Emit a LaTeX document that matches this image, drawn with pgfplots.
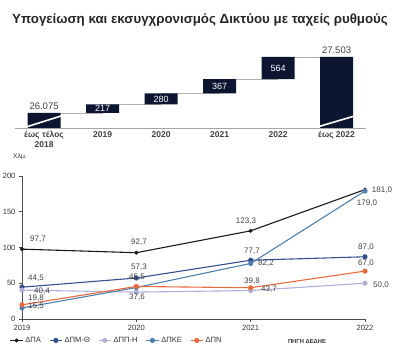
\documentclass[border=0pt]{standalone}
\usepackage{pgfplots}
\pgfplotsset{compat=1.18}
\usepackage{fontspec}
\setmainfont{Liberation Sans}
\definecolor{navy}{HTML}{0C1630}
\definecolor{cPA}{HTML}{1A1A1A}
\definecolor{cPMT}{HTML}{34508C}
\definecolor{cPPH}{HTML}{AFAFD8}
\definecolor{cPKE}{HTML}{4F7FAE}
\definecolor{cPN}{HTML}{E86A3E}
\definecolor{lbl}{HTML}{404040}
\begin{document}
\begin{tikzpicture}
\path[use as bounding box] (0pt,0pt) rectangle (400pt,363pt);
\node[font=\bfseries\fontsize{13.3}{16}\selectfont, text=black!85] at (200pt,343pt) {Υπογείωση και εκσυγχρονισμός Δικτύου με ταχείς ρυθμούς};

% connectors (behind bars)
\begin{axis}[at={(14.8pt,235pt)}, anchor=south west, scale only axis,
  width=351pt, height=83pt, xmin=-0.5, xmax=5.5, ymin=25690, ymax=27810,
  hide axis]
\addplot[gray!60, line width=0.5pt] coordinates {(0,26075) (1,26075)};
\addplot[gray!60, line width=0.5pt] coordinates {(1,26292) (2,26292)};
\addplot[gray!60, line width=0.5pt] coordinates {(2,26572) (3,26572)};
\addplot[gray!60, line width=0.5pt] coordinates {(3,26939) (4,26939)};
\addplot[gray!60, line width=0.5pt] coordinates {(4,27503) (5,27503)};
\end{axis}

% waterfall bars
\begin{axis}[at={(14.8pt,235pt)}, anchor=south west, scale only axis,
  width=351pt, height=83pt, xmin=-0.5, xmax=5.5, ymin=25690, ymax=27810,
  ybar stacked, bar width=33pt,
  axis y line=none, axis x line*=bottom,
  x axis line style={gray!70, line width=0.6pt},
  xtick={0,1,2,3,4,5},
  xticklabels={{έως τέλος\\2018},2019,2020,2021,2022,έως 2022},
  x tick label style={font=\bfseries\fontsize{8.5}{10}\selectfont, text=black!75, align=center},
  major tick length=0pt]
\addplot[draw=none, fill=none] coordinates {(0,0) (1,26075) (2,26292) (3,26572) (4,26939) (5,0)};
\addplot[draw=none, fill=navy] coordinates {(0,26075) (1,217) (2,280) (3,367) (4,564) (5,27503)};
\end{axis}

% labels on the waterfall
\begin{axis}[at={(14.8pt,235pt)}, anchor=south west, scale only axis,
  width=351pt, height=83pt, xmin=-0.5, xmax=5.5, ymin=25690, ymax=27810,
  hide axis, clip=false]
\addplot[draw=none] coordinates {(0,26075) (5,27503)};
\draw[white, line width=1.6pt] (axis cs:-0.32,25710) -- (axis cs:0.32,26010);
\draw[white, line width=1.6pt] (axis cs:4.66,25710) -- (axis cs:5.36,26020);
\node[font=\fontsize{9.5}{10}\selectfont, text=black!75, above] at (axis cs:0,26075) {26.075};
\node[font=\fontsize{9.5}{10}\selectfont, text=black!75, above] at (axis cs:5,27503) {27.503};
\node[font=\fontsize{9}{10}\selectfont, text=white] at (axis cs:1,26183) {217};
\node[font=\fontsize{9}{10}\selectfont, text=white] at (axis cs:2,26432) {280};
\node[font=\fontsize{9}{10}\selectfont, text=white] at (axis cs:3,26755) {367};
\node[font=\fontsize{9}{10}\selectfont, text=white] at (axis cs:4,27221) {564};
\end{axis}

% line chart
\begin{axis}[at={(22pt,44pt)}, anchor=south west, scale only axis,
  width=343pt, height=143pt, xmin=2019, xmax=2022, ymin=0, ymax=200,
  xtick={2019,2020,2021,2022}, ytick={0,50,100,150,200},
  axis x line*=bottom, axis y line*=left,
  axis line style={black!70, line width=0.6pt},
  tick style={black!70, line width=0.6pt}, tick align=outside, major tick length=3pt,
  /pgf/number format/assume math mode=true,
  /pgf/number format/1000 sep={},
  tick label style={font=\fontsize{7.6}{8}\selectfont, text=black!80},
  clip=false,
  legend style={at={(-0.045,-0.15)}, anchor=west, draw=none, fill=none,
    font=\fontsize{7.6}{8}\selectfont, text=black!80, legend columns=5,
    /tikz/every even column/.append style={column sep=6pt}},
  legend image code/.code={\draw[mark repeat=2,mark phase=2] plot coordinates {(0cm,0cm) (0.22cm,0cm) (0.44cm,0cm)};}
  ]
\addplot[cPA, line width=1.1pt, mark=*, mark size=1.4pt] coordinates {(2019,97.7) (2020,92.7) (2021,123.3) (2022,181.0)};
\addplot[cPMT, line width=1.1pt, mark=*, mark size=2pt] coordinates {(2019,44.5) (2020,57.3) (2021,82.2) (2022,87.0)};
\addplot[cPPH, line width=1.1pt, mark=*, mark size=2pt] coordinates {(2019,40.4) (2020,37.6) (2021,39.8) (2022,50.0)};
\addplot[cPKE, line width=1.1pt, mark=*, mark size=2pt] coordinates {(2019,15.5) (2020,44.0) (2021,77.7) (2022,179.0)};
\addplot[cPN, line width=1.1pt, mark=*, mark size=2pt] coordinates {(2019,19.8) (2020,45.5) (2021,43.7) (2022,67.0)};
\legend{ΔΠΑ,ΔΠΜ-Θ,ΔΠΠ-Η,ΔΠΚΕ,ΔΠΝ}
\end{axis}

\begin{scope}[font=\fontsize{8}{8}\selectfont, text=lbl]
\node at (38pt,124pt) {97,7};
\node at (139pt,121pt) {92,7};
\node at (246pt,142pt) {123,3};
\node at (382pt,173pt) {181,0};
\node at (367pt,160pt) {179,0};
\node at (366pt,116pt) {87,0};
\node at (366pt,100pt) {67,0};
\node at (381pt,78pt) {50,0};
\node at (252pt,112pt) {77,7};
\node at (266pt,100pt) {82,2};
\node at (252pt,82pt) {39,8};
\node at (269pt,74pt) {43,7};
\node at (139pt,96pt) {57,3};
\node at (137pt,86pt) {45,5};
\node at (137pt,66pt) {37,6};
\node at (36pt,85pt) {44,5};
\node at (42pt,72pt) {40,4};
\node at (36pt,65pt) {19,8};
\node at (36pt,57pt) {15,5};
\end{scope}
\node[font=\fontsize{6.8}{7}\selectfont, text=black!80] at (20pt,206pt) {Χλμ.};
\node[font=\bfseries\fontsize{5.8}{7}\selectfont, text=black!80] at (307pt,21pt) {ΠΗΓΗ ΔΕΔΗΕ};
\end{tikzpicture}
\end{document}
